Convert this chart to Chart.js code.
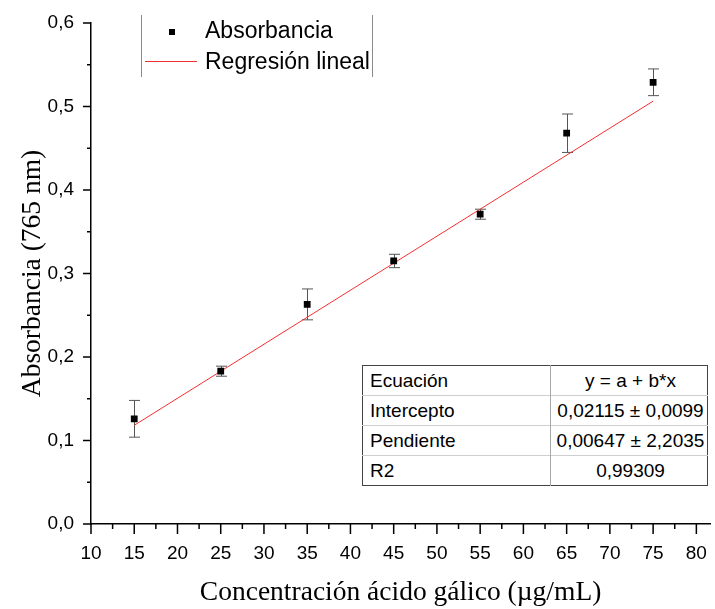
<!DOCTYPE html>
<html>
<head>
<meta charset="utf-8">
<script src="https://cdn.jsdelivr.net/npm/chart.js@4.4.1/dist/chart.umd.min.js"></script>
<style>
  html, body { margin: 0; padding: 0; background: #fff; }
  #wrap { position: relative; width: 715px; height: 609px; overflow: hidden; }
  #chart { position: absolute; left: 0; top: 0; }
  .legend-rule { position: absolute; width: 1px; background: #8a8a8a; }
  .legend-text { position: absolute; font-family: "Liberation Sans", Arial, sans-serif; font-size: 23px; line-height: 1; color: #000; white-space: nowrap; }
  #fit-table { position: absolute; left: 362px; top: 365px; width: 345px; height: 120px;
    table-layout: fixed; border-collapse: collapse; border: 1px solid #444; background: #fff;
    font-family: "Liberation Sans", Arial, sans-serif; font-size: 19px; color: #000; }
  #fit-table td { padding: 0 0 0 7px; height: 29px; border-top: 1px solid #cfcfcf; white-space: nowrap; }
  #fit-table tr:first-child td { border-top: none; }
  #fit-table td.val { text-align: center; padding: 0 0 0 3px; border-left: 1px solid #a8a8a8; }
</style>
</head>
<body>
<div id="wrap">
  <canvas id="chart" width="715" height="609"></canvas>

  <div class="legend-rule" style="left:141px; top:15px; height:62px;"></div>
  <div class="legend-rule" style="left:372px; top:15px; height:62px;"></div>
  <div style="position:absolute; left:169px; top:29px; width:6px; height:6px; background:#000;"></div>
  <div style="position:absolute; left:145px; top:61px; width:52px; height:1px; background:#f03030;"></div>
  <div class="legend-text" style="left:205px; top:19px;">Absorbancia</div>
  <div class="legend-text" style="left:205px; top:50px;">Regresión lineal</div>

  <table id="fit-table">
    <colgroup><col style="width:188px"><col style="width:157px"></colgroup>
    <tr><td>Ecuación</td><td class="val">y = a + b*x</td></tr>
    <tr><td>Intercepto</td><td class="val">0,02115 ± 0,0099</td></tr>
    <tr><td>Pendiente</td><td class="val">0,00647 ± 2,2035</td></tr>
    <tr><td>R2</td><td class="val">0,99309</td></tr>
  </table>
</div>

<script>
// Gallic acid calibration: concentration (µg/mL) vs absorbance at 765 nm
const concentration = [15, 25, 35, 45, 55, 65, 75];
const absorbance    = [0.126, 0.183, 0.263, 0.315, 0.371, 0.468, 0.529];
const absorbanceErr = [0.022, 0.006, 0.0185, 0.008, 0.006, 0.023, 0.016];

// Linear fit coefficients (shown in the table)
const intercept = 0.02115;
const slope = 0.00647;
const fitRange = [15, 75];

// Axis ticks
const xTickValues = [10, 15, 20, 25, 30, 35, 40, 45, 50, 55, 60, 65, 70, 75, 80];
const yTickValues = [0, 0.1, 0.2, 0.3, 0.4, 0.5, 0.6];

const decimalComma = v => v.toFixed(1).replace('.', ',');

// Error bars with caps, drawn beneath the square markers
const errorBars = {
  id: 'errorBars',
  beforeDatasetsDraw(chart) {
    const { ctx, scales: { x, y } } = chart;
    ctx.save();
    ctx.strokeStyle = '#555';
    ctx.lineWidth = 1;
    concentration.forEach((c, i) => {
      const px = Math.round(x.getPixelForValue(c)) + 0.5;
      const top = y.getPixelForValue(absorbance[i] + absorbanceErr[i]);
      const bot = y.getPixelForValue(absorbance[i] - absorbanceErr[i]);
      ctx.beginPath();
      ctx.moveTo(px, top); ctx.lineTo(px, bot);
      ctx.moveTo(px - 5.5, top); ctx.lineTo(px + 5.5, top);
      ctx.moveTo(px - 5.5, bot); ctx.lineTo(px + 5.5, bot);
      ctx.stroke();
    });
    ctx.restore();
  }
};

// Outward major and minor tick marks on both axes
const tickMarks = {
  id: 'tickMarks',
  afterDraw(chart) {
    const { ctx, scales: { x, y }, chartArea } = chart;
    ctx.save();
    ctx.strokeStyle = '#000';
    ctx.lineWidth = 1.5;
    ctx.beginPath();
    for (let k = 0; k <= 28; k++) {
      const v = 10 + k * 2.5;
      const px = x.getPixelForValue(v);
      const len = k % 2 === 0 ? 10 : 5;
      ctx.moveTo(px, chartArea.bottom);
      ctx.lineTo(px, chartArea.bottom + len);
    }
    for (let k = 0; k <= 12; k++) {
      const v = k * 0.05;
      const py = y.getPixelForValue(v);
      const len = k % 2 === 0 ? 8 : 4;
      ctx.moveTo(chartArea.left, py);
      ctx.lineTo(chartArea.left - len, py);
    }
    ctx.stroke();
    ctx.restore();
  }
};

Chart.defaults.font.family = '"Liberation Sans", Arial, sans-serif';
Chart.defaults.color = '#000';

new Chart(document.getElementById('chart'), {
  type: 'scatter',
  data: {
    datasets: [
      {
        label: 'Absorbancia',
        data: concentration.map((c, i) => ({ x: c, y: absorbance[i] })),
        pointStyle: 'rect',
        pointRadius: 4.8,
        pointBackgroundColor: '#000',
        pointBorderWidth: 0,
        showLine: false
      },
      {
        label: 'Regresión lineal',
        type: 'line',
        data: fitRange.map(c => ({ x: c, y: intercept + slope * c })),
        borderColor: '#f03030',
        borderWidth: 1,
        pointRadius: 0,
        fill: false
      }
    ]
  },
  options: {
    responsive: false,
    animation: false,
    layout: { padding: { top: 23, right: 0, bottom: 0, left: 0 } },
    plugins: { legend: { display: false }, tooltip: { enabled: false } },
    scales: {
      x: {
        type: 'linear',
        min: 10,
        max: 81.6,
        afterBuildTicks: s => { s.ticks = xTickValues.map(v => ({ value: v })); },
        afterFit: s => { s.height = 85; s.paddingLeft = 0; s.paddingRight = 0; },
        grid: { display: false, drawTicks: false },
        border: { display: true, color: '#000', width: 1.5 },
        ticks: { padding: 18, font: { size: 19 }, maxRotation: 0, autoSkip: false, callback: v => String(v) },
        title: {
          display: true,
          text: 'Concentración ácido gálico (µg/mL)',
          font: { family: '"Liberation Serif", "Times New Roman", serif', size: 27.5 },
          padding: { top: 0, bottom: 0 }
        }
      },
      y: {
        type: 'linear',
        min: 0,
        max: 0.6,
        afterBuildTicks: s => { s.ticks = yTickValues.map(v => ({ value: v })); },
        afterFit: s => { s.width = 91; s.paddingTop = 0; s.paddingBottom = 0; },
        grid: { display: false, drawTicks: false },
        border: { display: true, color: '#000', width: 1.5 },
        ticks: { padding: 17, font: { size: 19 }, autoSkip: false, callback: v => decimalComma(v) },
        title: {
          display: true,
          text: 'Absorbancia (765 nm)',
          font: { family: '"Liberation Serif", "Times New Roman", serif', size: 27.5 },
          padding: { top: 16, bottom: 0 }
        }
      }
    }
  },
  plugins: [errorBars, tickMarks]
});
</script>
</body>
</html>
